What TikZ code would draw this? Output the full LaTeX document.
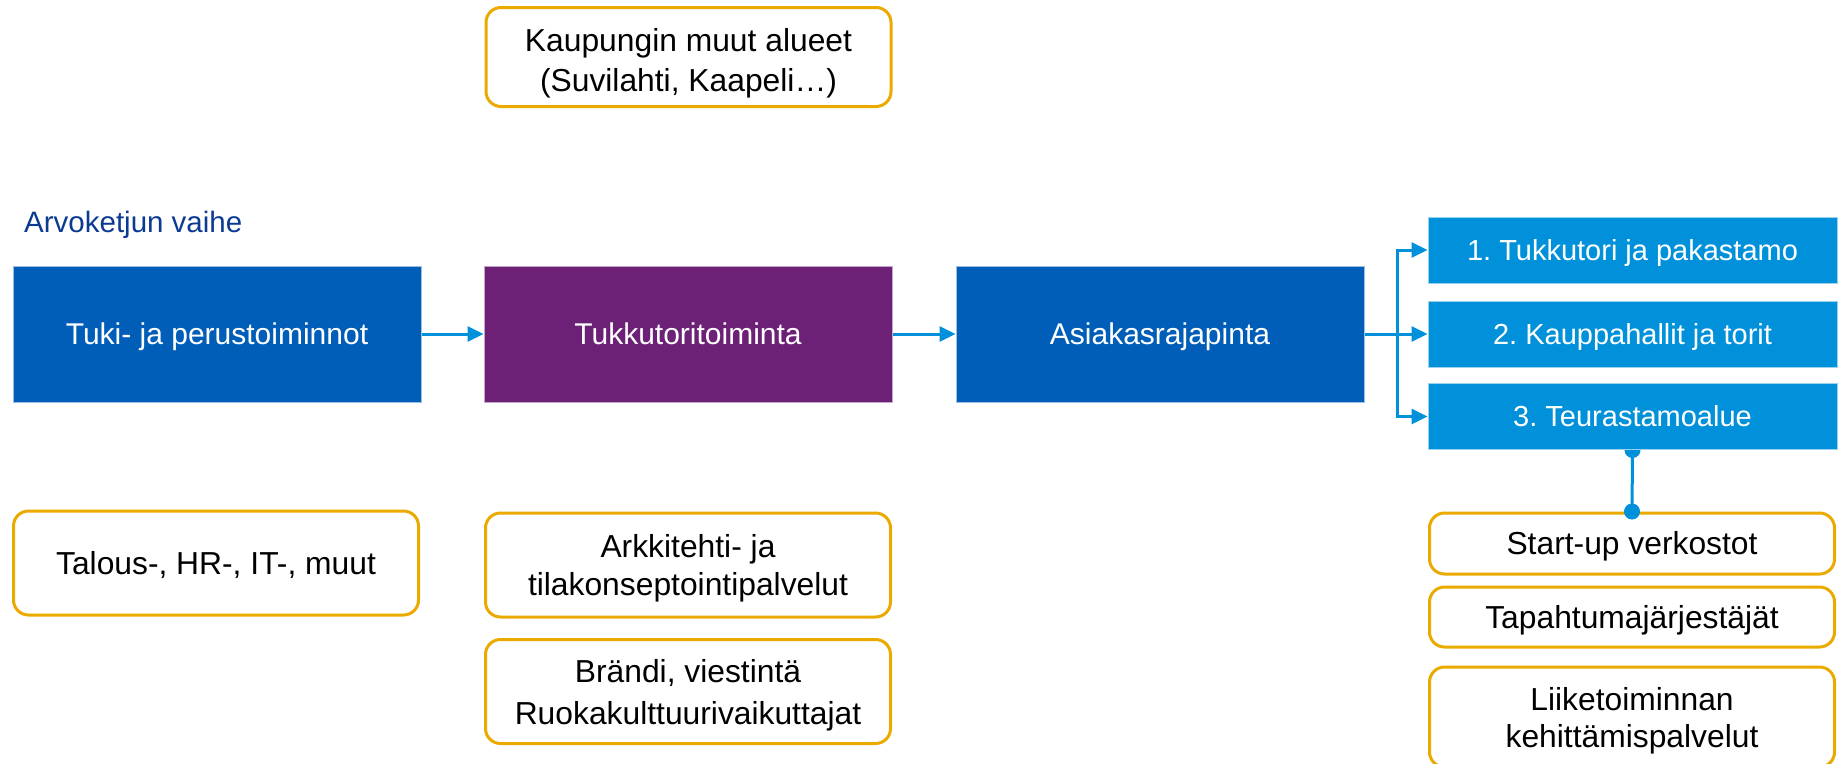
\documentclass[tikz,border=0pt]{standalone}
\usepackage{fontspec}
\setmainfont{Liberation Sans}
\usetikzlibrary{arrows.meta,backgrounds}
\frenchspacing
\newcommand\mycapstrut{\rule{0pt}{30pt}}
\definecolor{darkblue}{HTML}{005EB8}
\definecolor{purp}{HTML}{6C2177}
\definecolor{lightblue}{HTML}{0091DA}
\definecolor{amber}{HTML}{EAAA00}
\definecolor{navy}{HTML}{0B3A92}
\tikzset{
  mainbox/.style={fill=#1, draw=white!60!#1, line width=1pt, minimum width=408pt, minimum height=136pt, text=white, font=\fontsize{30}{35}\selectfont, inner sep=0pt, text height=21.5pt, text depth=0pt},
  lbbox/.style={fill=lightblue, draw=white!60!lightblue, line width=1pt, minimum width=409pt, minimum height=66pt, text=white, font=\fontsize{29}{34}\selectfont, inner sep=0pt, text height=20.8pt, text depth=0pt},
  outbox/.style={draw=amber, line width=3pt, rounded corners=15pt, fill=white, minimum width=405pt, align=center, font=\fontsize{31.8}{36}\selectfont, inner sep=0pt},
  oneline/.style={outbox, text height=22.8pt, text depth=0pt},
  conn/.style={draw=lightblue, line width=3pt, -{Triangle[length=16pt,width=15pt]}},
  dotline/.style={draw=lightblue, line width=3pt},
}
\begin{document}
\begin{tikzpicture}[x=1pt,y=-1pt]
\useasboundingbox (0,0) rectangle (1843,763);
\node[anchor=base west, text=navy, font=\fontsize{29.5}{34}\selectfont, inner sep=0pt] (title) at (24,232) {Arvoketjun vaihe};
\node[mainbox=darkblue] (tuki) at (217,334) {Tuki- ja perustoiminnot};
\node[mainbox=purp] (tukku) at (688,334) {Tukkutoritoiminta};
\node[mainbox=darkblue] (asiakas) at (1160,334) {Asiakasrajapinta};
\node[lbbox] (lb1) at (1632.5,250) {1. Tukkutori ja pakastamo};
\node[lbbox] (lb2) at (1632.5,334) {2. Kauppahallit ja torit};
\node[lbbox] (lb3) at (1632.5,416.5) {3. Teurastamoalue};
\node[outbox, minimum height=99pt] (kaup) at (688.5,57) {\rule{0pt}{35.5pt}Kaupungin muut alueet\\[4pt](Suvilahti, Kaapeli\dots)};
\node[oneline, minimum height=104pt] (talous) at (216,563) {Talous-, HR-, IT-, muut};
\node[outbox, minimum height=104pt] (arkki) at (688,565) {\mycapstrut Arkkitehti- ja\\[2pt]tilakonseptointipalvelut};
\node[outbox, minimum height=104pt] (brandi) at (688,691.5) {\mycapstrut Brändi, viestintä\\[6pt]Ruokakulttuurivaikuttajat};
\node[oneline, minimum height=61pt] (startup) at (1632,543.5) {Start-up verkostot};
\node[oneline, minimum height=60pt] (tapaht) at (1632,617) {Tapahtumajärjestäjät};
\node[outbox, minimum height=100pt] (liike) at (1632,717) {\mycapstrut Liiketoiminnan\\[1pt]kehittämispalvelut};
\coordinate (top) at (1397,250);
\coordinate (bot) at (1397,416.5);
\draw[conn] (tuki.east) -- (tukku.west);
\draw[conn] (tukku.east) -- (asiakas.west);
\draw[conn] (asiakas.east) -- (lb2.west);
\draw[dotline] (top) -- (bot);
\draw[conn] ([xshift=-1.5pt]top) -- (lb1.west);
\draw[conn] ([xshift=-1.5pt]bot) -- (lb3.west);
\begin{pgfonlayer}{background}
\fill[lightblue] (lb3.south) circle (8pt);
\end{pgfonlayer}
\draw[dotline] (lb3.south) -- (startup.north);
\fill[lightblue] (startup.north) circle (8pt);
\end{tikzpicture}
\end{document}
